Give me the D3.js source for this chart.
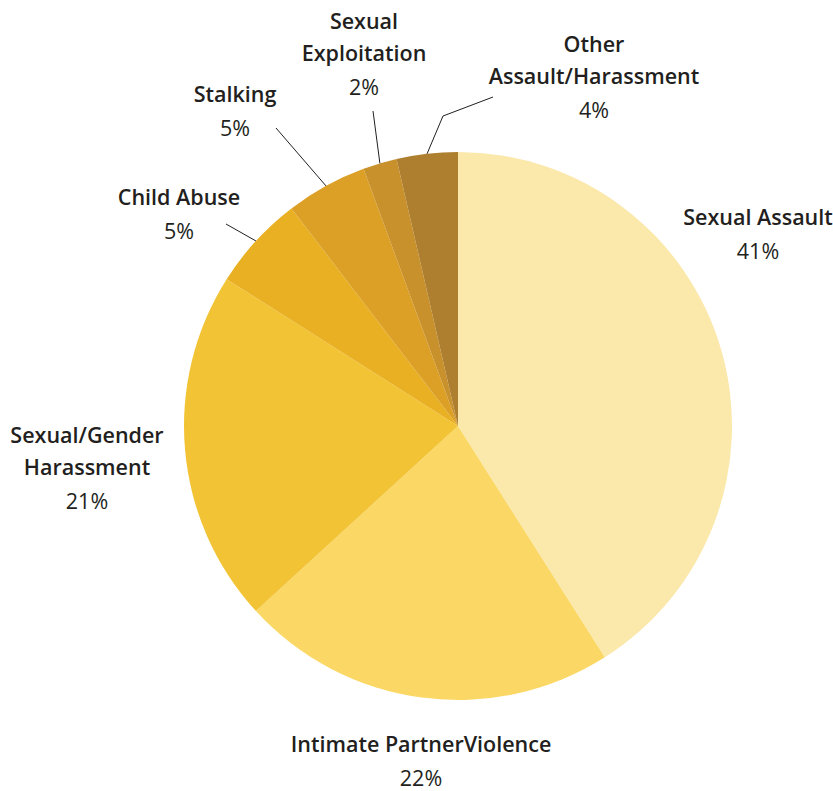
<!DOCTYPE html>
<html>
<head>
<meta charset="utf-8">
<script src="https://cdn.jsdelivr.net/npm/d3@7"></script>
<style>
  body { margin: 0; background: #fff; }
  svg text { font-family: "Open Sans", Lato, sans-serif; fill: #231f20; }
</style>
</head>
<body>
<svg id="chart"></svg>
<script>
// Chart data
const categories = ["Sexual Assault", "Intimate Partner Violence", "Sexual/Gender Harassment",
  "Child Abuse", "Stalking", "Sexual Exploitation", "Other Assault/Harassment"];
const values = [41, 22.2, 20.8, 5.6, 4.8, 2, 3.6];
const pctLabels = ["41%", "22%", "21%", "5%", "5%", "2%", "4%"];
const colors = ["#fbe8ab", "#fbd865", "#f2c335", "#e8b022", "#dca026", "#c8912b", "#ae7f2e"];

// label text lines
const nameLines = [
  ["Sexual Assault"],
  ["Intimate PartnerViolence"],
  ["Sexual/Gender", "Harassment"],
  ["Child Abuse"],
  ["Stalking"],
  ["Sexual", "Exploitation"],
  ["Other", "Assault/Harassment"]
];

// label placement: centre x, first baseline y, leader line points (null = no leader)
const labelLayout = [
  { x: 758, y: 225, leader: null },
  { x: 421, y: 752, leader: null },
  { x: 87, y: 443, leader: null },
  { x: 179, y: 205, leader: [[226, 224]] },
  { x: 235, y: 102, leader: [[276, 128]] },
  { x: 364, y: 29, leader: [[373, 111]] },
  { x: 594, y: 52, leader: [[493, 97], [443, 116]] }
];

const width = 833;
const height = 791;
const cx = 458, cy = 426, radius = 274;
const lineGap = 32;

const svg = d3.select("#chart")
    .attr("width", width)
    .attr("height", height);

const pie = d3.pie().sort(null).value(d => d)(values);
const arc = d3.arc().innerRadius(0).outerRadius(radius);

const g = svg.append("g").attr("transform", `translate(${cx},${cy})`);

g.selectAll("path.slice")
    .data(pie)
    .join("path")
    .attr("class", "slice")
    .attr("fill", (d, i) => colors[i])
    .attr("d", arc);

// leader lines from slice mid-angle on the rim to the label
pie.forEach((d, i) => {
    const lay = labelLayout[i];
    if (!lay.leader) return;
    const mid = (d.startAngle + d.endAngle) / 2;
    const rim = [cx + radius * Math.sin(mid), cy - radius * Math.cos(mid)];
    const pts = lay.leader.concat([rim]);
    svg.append("path")
        .attr("fill", "none")
        .attr("stroke", "#231f20")
        .attr("stroke-width", 1)
        .attr("d", d3.line()(pts));
});

// labels
labelLayout.forEach((lay, i) => {
    const t = svg.append("text")
        .attr("text-anchor", "middle")
        .attr("font-size", 21.5);
    nameLines[i].forEach((line, k) => {
        t.append("tspan")
            .attr("x", lay.x)
            .attr("y", lay.y + k * lineGap)
            .attr("font-weight", 600)
            .text(line);
    });
    t.append("tspan")
        .attr("x", lay.x)
        .attr("y", lay.y + nameLines[i].length * lineGap + 2)
        .attr("font-weight", 400)
        .text(pctLabels[i]);
});
</script>
</body>
</html>
